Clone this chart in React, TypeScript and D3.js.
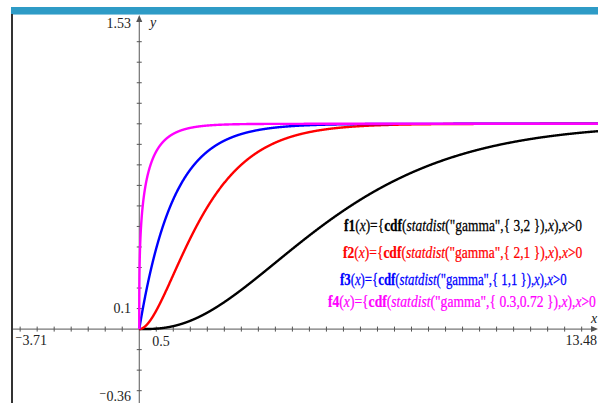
import React from "react";
import * as d3 from "d3";

const W = 598;
const H = 403;

const xDomain = [-3.71, 13.48];
const yDomain = [-0.36, 1.53];

const seriesNames = ["f1", "f2", "f3", "f4"];
const gammaShape = [3, 2, 1, 0.3];
const gammaScale = [2, 1, 1, 0.72];
const seriesColors = ["#000000", "#ff0000", "#0000ff", "#ff00ff"];
const paramLabels = ["3,2", "2,1", "1,1", "0.3,0.72"];

const xTickLabels = [
  { v: -3.71, t: "\u207B3.71" },
  { v: 0.5, t: "0.5" },
  { v: 13.48, t: "13.48" },
];
const yTickLabels = [
  { v: 1.53, t: "1.53" },
  { v: 0.1, t: "0.1" },
  { v: -0.36, t: "\u207B0.36" },
];

function lnGamma(z: number): number {
  const c = [
    0.99999999999980993, 676.5203681218851, -1259.1392167224028,
    771.32342877765313, -176.61502916214059, 12.507343278686905,
    -0.13857109526572012, 9.9843695780195716e-6, 1.5056327351493116e-7,
  ];
  if (z < 0.5) return Math.log(Math.PI / Math.sin(Math.PI * z)) - lnGamma(1 - z);
  z -= 1;
  let x = c[0];
  for (let i = 1; i < 9; i++) x += c[i] / (z + i);
  const t = z + 7.5;
  return 0.5 * Math.log(2 * Math.PI) + (z + 0.5) * Math.log(t) - t + Math.log(x);
}

function gammaP(a: number, x: number): number {
  if (x <= 0) return 0;
  let term = 1 / a;
  let sum = term;
  for (let n = 1; n < 1000; n++) {
    term *= x / (a + n);
    sum += term;
    if (term < sum * 1e-14) break;
  }
  return Math.min(1, sum * Math.exp(-x + a * Math.log(x) - lnGamma(a)));
}

// legend placement: left x, baseline y, horizontal squeeze
const legendLayout = [
  { x: 344, y: 231, s: 0.84 },
  { x: 343, y: 258, s: 0.845 },
  { x: 340, y: 285, s: 0.8 },
  { x: 328, y: 307, s: 0.85 },
];

export default function App() {
  const x = d3.scaleLinear().domain(xDomain).range([13, 598]);
  const y = d3.scaleLinear().domain(yDomain).range([403, 15]);
  const x0 = x(0);
  const y0 = y(0);

  const xs = [0, ...d3.range(1, 2001).map((i) => (i / 2000) ** 2 * 13.48)];

  const line = d3
    .line<[number, number]>()
    .x((d) => x(d[0]))
    .y((d) => y(d[1]))
    .curve(d3.curveLinear);

  const xTicks = d3.range(-7, 27).map((i) => i * 0.5).filter((v) => v !== 0 && v > xDomain[0] && v < xDomain[1]);
  const yTicks = d3.range(-3, 16).map((i) => i / 10).filter((v) => Math.abs(v) > 1e-9 && v > yDomain[0] && v < yDomain[1]);

  const axisColor = "#555";
  const labelFont = "'Liberation Serif', 'DejaVu Serif', serif";

  return (
    <svg
      width={W}
      height={H}
      style={{ position: "absolute", left: 0, top: 0, background: "#fff" }}
    >
      <rect x={0} y={0} width={W} height={H} fill="#fff" />
      {/* top bar */}
      <rect x={11} y={7} width={W - 11} height={7} fill="#2e9bc6" />
      <rect x={11} y={14} width={W - 11} height={1} fill="#8cc8e0" />
      {/* left border */}
      <rect x={11} y={14} width={2} height={H - 14} fill="#333" />

      <defs>
        <clipPath id="plot">
          <rect x={13} y={15} width={W - 13} height={H - 15} />
        </clipPath>
      </defs>

      {/* axes */}
      <line x1={13} x2={W - 2} y1={y0} y2={y0} stroke={axisColor} strokeWidth={1} />
      <line x1={x0} x2={x0} y1={18} y2={H} stroke={axisColor} strokeWidth={1} />
      <path d={`M${x0 - 3},${22} L${x0},${15} L${x0 + 3},${22} Z`} fill={axisColor} />
      <path d={`M${W - 7},${y0 - 3} L${W},${y0} L${W - 7},${y0 + 3} Z`} fill={axisColor} />
      {xTicks.map((v) => (
        <line key={"xt" + v} x1={x(v)} x2={x(v)} y1={y0 - 2.5} y2={y0 + 2.5} stroke={axisColor} strokeWidth={1} />
      ))}
      {yTicks.map((v) => (
        <line key={"yt" + v} x1={x0 - 2.5} x2={x0 + 2.5} y1={y(v)} y2={y(v)} stroke={axisColor} strokeWidth={1} />
      ))}

      {/* tick labels */}
      <g fontFamily={labelFont} fontSize={14} fill="#222">
        <text x={131} y={y(yTickLabels[0].v) + 13} textAnchor="end">{yTickLabels[0].t}</text>
        <text x={131} y={y(yTickLabels[1].v) + 4} textAnchor="end">{yTickLabels[1].t}</text>
        <text x={131} y={y(yTickLabels[2].v) - 2} textAnchor="end">{yTickLabels[2].t}</text>
        <text x={15} y={y0 + 16} textAnchor="start">{xTickLabels[0].t}</text>
        <text x={x(xTickLabels[1].v) - 4} y={y0 + 17} textAnchor="start">{xTickLabels[1].t}</text>
        <text x={597} y={y0 + 16} textAnchor="end">{xTickLabels[2].t}</text>
        <text x={591} y={y0 - 6} fontStyle="italic">x</text>
        <text x={150} y={27} fontStyle="italic">y</text>
      </g>

      {/* curves */}
      <g clipPath="url(#plot)">
        {seriesNames.map((n, i) => {
          const pts: [number, number][] = xs.map((v) => [v, gammaP(gammaShape[i], v / gammaScale[i])]);
          return (
            <path key={n} d={line(pts) || ""} fill="none" stroke={seriesColors[i]} strokeWidth={2.4} strokeLinejoin="round" />
          );
        })}
      </g>

      {/* legend */}
      <g fontFamily={labelFont} fontSize={16}>
        {seriesNames.map((n, i) => (
          <text
            key={"lg" + n}
            transform={`translate(${legendLayout[i].x},${legendLayout[i].y}) scale(${legendLayout[i].s},1)`}
            x={0}
            y={0}
            fill={seriesColors[i]}
            stroke={seriesColors[i]}
            strokeWidth={0.25}
          >
            <tspan fontWeight="bold">{n}</tspan>
            <tspan>(</tspan>
            <tspan fontStyle="italic">x</tspan>
            <tspan>)={"{"}</tspan>
            <tspan fontWeight="bold">cdf</tspan>
            <tspan>(</tspan>
            <tspan fontStyle="italic">statdist</tspan>
            <tspan>("gamma",{"{ "}{paramLabels[i]}{" }"}),</tspan>
            <tspan fontStyle="italic">x</tspan>
            <tspan>),</tspan>
            <tspan fontStyle="italic">x</tspan>
            <tspan>{">0"}</tspan>
          </text>
        ))}
      </g>
    </svg>
  );
}
